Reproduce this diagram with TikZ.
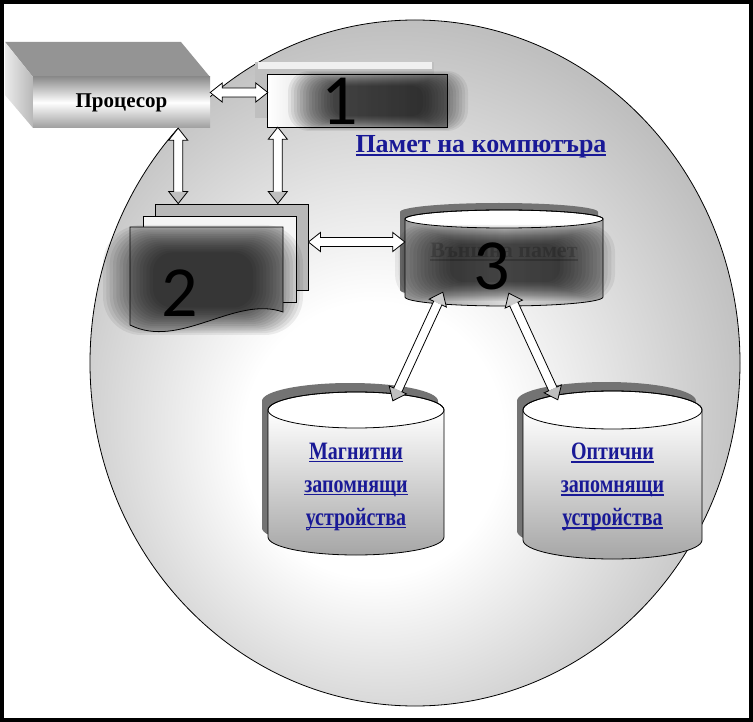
\documentclass[tikz,border=0pt]{standalone}
\usepackage{fontspec}
\setmainfont{Liberation Serif}
\newfontfamily\numfont{Carlito}
\newfontfamily\condbf[FakeStretch=0.8]{Liberation Serif Bold}
\usetikzlibrary{calc}
\definecolor{linkblue}{RGB}{25,25,150}
\pgfdeclareradialshading{ellshade}{\pgfpoint{-4bp}{-7bp}}{color(0bp)=(white); color(10bp)=(white); color(28bp)=(black!25); color(50bp)=(black!25)}
\newcommand\myul[1]{\setbox0\hbox{#1}\rlap{\rule[-3pt]{\wd0}{1.6pt}}\box0}
\newcommand\blob[4]{\foreach \k in {0,...,15}{%
  \pgfmathsetmacro\bx{#3*(1-\k/30)}\pgfmathsetmacro\by{#4*(1-\k/30)}\pgfmathsetmacro\rc{min(\bx,\by)*0.7}%
  \fill[black, fill opacity=0.065, rounded corners=\rc pt] ({#1-\bx},{#2-\by}) rectangle ({#1+\bx},{#2+\by});}}
\newcommand\cylsil[5]{(#1,#2) -- (#1,#3) arc[start angle=180,end angle=360,x radius=#4pt,y radius=#5pt] -- ++(0,{#2-#3}) arc[start angle=0,end angle=180,x radius=#4pt,y radius=#5pt] -- cycle}
\newcommand\cylfront[5]{(#1,#2) -- (#1,#3) arc[start angle=180,end angle=360,x radius=#4pt,y radius=#5pt] -- ++(0,{#2-#3}) arc[start angle=0,end angle=-180,x radius=#4pt,y radius=#5pt] -- cycle}
\newcommand\cyltop[4]{({#1+#3},#2) ellipse[x radius=#3pt,y radius=#4pt]}
\newcommand\dbl[4]{%
  \pgfpointdiff{\pgfpointanchor{#1}{center}}{\pgfpointanchor{#2}{center}}%
  \pgfgetlastxy{\arrdx}{\arrdy}%
  \pgfmathsetmacro\arrang{atan2(\arrdy,\arrdx)}%
  \pgfmathsetmacro\arrlen{veclen(\arrdx,\arrdy)}%
  \begin{scope}[shift={(#1)}, rotate=\arrang]
    \fill[white] (12,-4.5) rectangle ({\arrlen-12},4.5);
    \fill[#3] (0,0) -- (12,9.5) -- (12,-9.5) -- cycle;
    \fill[#4] (\arrlen,0) -- ({\arrlen-12},9.5) -- ({\arrlen-12},-9.5) -- cycle;
    \draw[line width=0.8pt, line join=miter] (0,0) -- (12,9.5) -- (12,4.5) -- ({\arrlen-12},4.5) -- ({\arrlen-12},9.5) -- (\arrlen,0) -- ({\arrlen-12},-9.5) -- ({\arrlen-12},-4.5) -- (12,-4.5) -- (12,-9.5) -- cycle;
  \end{scope}}
\tikzset{
  proc/.style={rectangle, inner sep=0pt, minimum width=177pt, minimum height=51pt,
    top color=black!45, bottom color=black!38, middle color=white,
    font=\bfseries\fontsize{21}{21}\selectfont},
  boxone/.style={rectangle, inner sep=0pt, minimum width=179pt, minimum height=52pt,
    left color=white, right color=black!45},
  page/.style={rectangle, draw, line width=0.8pt, inner sep=0pt, minimum width=153pt, minimum height=86pt},
  num/.style={inner sep=0pt, font=\numfont\fontsize{72}{72}\selectfont},
  link/.style={inner sep=0pt, text=linkblue, font=\condbf\fontsize{25}{33}\selectfont}
}
\begin{document}
\begin{tikzpicture}[x=1pt,y=-1pt]
\useasboundingbox (0,0) rectangle (753,722);
\fill[white] (0,0) rectangle (753,722);
\shadedraw[shading=ellshade, line width=0.8pt] (415,363) ellipse [x radius=325pt, y radius=343pt];

% processor
\fill[black!42] (5,42) -- (181,42) -- (210,77) -- (33,77) -- cycle;
\shade[left color=black!8, right color=black!28] (5,42) -- (33,77) -- (33,128) -- (5,95) -- cycle;
\node[proc] (proc) at (121.5,102.5) {Процесор};

% box 1
\fill[black!25] (255,62) rectangle (434,118);
\fill[black!6] (258,62) rectangle (432,69);
\node[boxone] (m1) at (357.5,101) {};
\blob{378}{101}{90}{30}
\draw[line width=1pt] (m1.north west) rectangle (m1.south east);
\node[num] (n1) at (340,101) {1};

\node[link, font=\bfseries\fontsize{26}{26}\selectfont, anchor=base] (lbl) at (481,153) {\myul{Памет на компютъра}};

% box 2 (stack of pages)
\node[page, fill=black!28] (pg3) at (231.5,247) {};
\node[page, fill=black!4] (pg2) at (219.5,259) {};
\fill[black!30] (130,227) -- (283,227) -- (283,312) .. controls (235,295) and (180,350) .. (130,325) -- cycle;
\blob{203}{280}{100}{55}
\draw[line width=0.8pt] (130,227) -- (283,227) -- (283,312) .. controls (235,295) and (180,350) .. (130,325) -- cycle;
\node[num] (n2) at (180,293) {2};

% cylinder 3
\fill[black!55] \cylsil{400}{212}{290}{99}{9};
\shade[left color=black!40, right color=black!35, middle color=black!15] \cylfront{405}{219}{297}{99}{9};
\fill[white] \cyltop{405}{219}{99}{9};
\blob{505}{263}{110}{38}
\draw[line width=0.8pt] \cylsil{405}{219}{297}{99}{9};
\draw[line width=0.8pt] \cyltop{405}{219}{99}{9};
\node[inner sep=0pt, minimum width=198pt, minimum height=96pt] (c3) at (504,258) {};
\node[inner sep=0pt, text=black, text opacity=0.2, font=\bfseries\fontsize{22}{22}\selectfont, anchor=base] (c3txt) at (504,258) {\myul{Външна памет}};
\node[num] (n3) at (492,266) {3};

% cylinder 4
\fill[black!55] \cylsil{262}{401}{528}{88}{18};
\shade[top color=white, bottom color=black!35] \cylfront{268}{410}{537}{88}{18};
\fill[white] \cyltop{268}{410}{88}{18};
\draw[line width=0.8pt] \cylsil{268}{410}{537}{88}{18};
\draw[line width=0.8pt] \cyltop{268}{410}{88}{18};
\node[inner sep=0pt, minimum width=176pt, minimum height=164pt] (c4) at (356,473) {};
\node[link, align=center] (t4) at (356,487) {\myul{Магнитни}\\\myul{запомнящи}\\\myul{устройства}};

% cylinder 5
\fill[black!55] \cylsil{517}{401}{531}{89.5}{19};
\shade[top color=white, bottom color=black!35] \cylfront{523}{410}{540}{89.5}{19};
\fill[white] \cyltop{523}{410}{89.5}{19};
\draw[line width=0.8pt] \cylsil{523}{410}{540}{89.5}{19};
\draw[line width=0.8pt] \cyltop{523}{410}{89.5}{19};
\node[inner sep=0pt, minimum width=179pt, minimum height=168pt] (c5) at (612.5,475) {};
\node[link, align=center] (t5) at (612.5,487) {\myul{Оптични}\\\myul{запомнящи}\\\myul{устройства}};

% connectors
\coordinate (a1s) at ([yshift=10pt]proc.east);
\coordinate (a1e) at (m1.west |- a1s);
\coordinate (a2s) at ([xshift=-32pt]proc.south east);
\coordinate (a2e) at (a2s |- pg3.north);
\coordinate (a3s) at ([xshift=10pt]m1.south west);
\coordinate (a3e) at (a3s |- pg3.north);
\coordinate (a4s) at ([yshift=5pt]pg3.east);
\coordinate (a4e) at (c3.west |- a4s);
\coordinate (a5s) at ([xshift=38pt,yshift=14pt]c3.south west);
\coordinate (a5e) at ([xshift=125pt,yshift=-10pt]c4.north west);
\coordinate (a6s) at ([xshift=104pt,yshift=13pt]c3.south west);
\coordinate (a6e) at ([xshift=35pt,yshift=-9pt]c5.north west);
\dbl{a1s}{a1e}{white}{white}
\dbl{a2s}{a2e}{white}{black!25}
\dbl{a3s}{a3e}{white}{black!25}
\dbl{a4s}{a4e}{white}{white}
\dbl{a5s}{a5e}{black!20}{black!25}
\dbl{a6s}{a6e}{black!20}{black!25}

\draw[line width=4pt] (2,2) rectangle (751,720);
\end{tikzpicture}
\end{document}
